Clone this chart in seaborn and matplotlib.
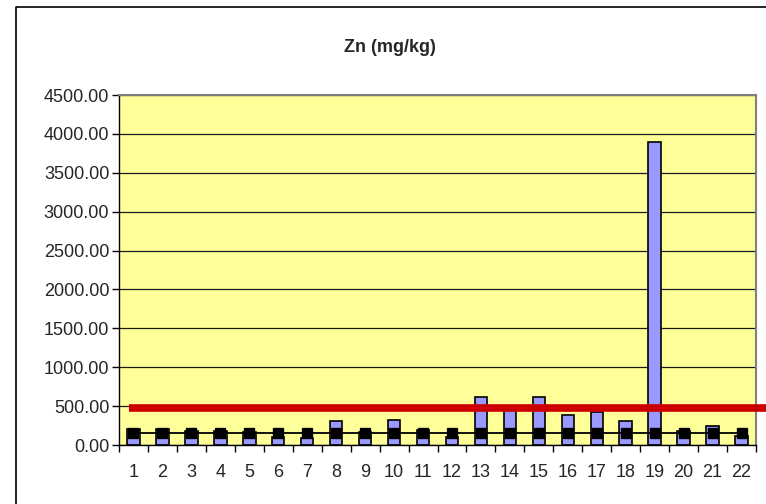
import matplotlib
matplotlib.use("Agg")
import matplotlib.pyplot as plt
import numpy as np
import pandas as pd
import seaborn as sns
from matplotlib.lines import Line2D
from matplotlib.ticker import FixedLocator, FormatStrFormatter

# data
samples = [str(i) for i in range(1, 23)]
zn_values = [200, 200, 185, 185, 165, 105, 85, 305, 165, 320, 190,
             105, 620, 460, 620, 380, 420, 305, 3900, 180, 240, 120]
background_level = [150] * 22
limit_value = 480
y_ticks = list(range(0, 4501, 500))

df = pd.DataFrame({"sample": samples, "zn": zn_values, "bg": background_level})

sns.set_style("white")
plt.rcParams["font.family"] = ["Liberation Sans", "DejaVu Sans"]

fig = plt.figure(figsize=(7.66, 5.04), dpi=100)
ax = fig.add_axes([119 / 766, 1 - 445 / 504, (756 - 119) / 766, 350 / 504])
ax.set_facecolor("#FFFF99")
ax.set_axisbelow(True)

# bars
sns.barplot(data=df, x="sample", y="zn", ax=ax, color="#9999FF", width=0.43,
            edgecolor="black", linewidth=1.2, saturation=1, zorder=2)

# background line with square markers
sns.pointplot(data=df, x="sample", y="bg", ax=ax, color="black", markers="s",
              linestyles="-", markersize=7, linewidth=1.3, zorder=3)

# limit line, runs past the right edge of the plot area
ax.hlines(limit_value, -0.15, 21.86, colors="#CC0000", linewidth=5.5,
          zorder=4, clip_on=False)

ax.set_xlim(-0.5, 21.5)
ax.set_ylim(0, 4500)
ax.set_yticks(y_ticks)
ax.yaxis.set_major_formatter(FormatStrFormatter("%.2f"))
ax.yaxis.grid(True, color="#1a1a1a", linewidth=0.9)
ax.set_xlabel("")
ax.set_ylabel("")

ax.xaxis.set_minor_locator(FixedLocator(np.arange(-0.5, 22, 1)))
ax.tick_params(axis="x", which="major", length=0, pad=14, labelsize=13)
ax.tick_params(axis="x", which="minor", length=5, width=1, color="black",
               direction="out", bottom=True)
ax.tick_params(axis="y", which="major", length=5, width=1, color="black",
               direction="out", left=True, labelsize=13, pad=2)

for side in ["left", "bottom"]:
    ax.spines[side].set_color("black")
    ax.spines[side].set_linewidth(1)
for side in ["top", "right"]:
    ax.spines[side].set_color("#808080")
    ax.spines[side].set_linewidth(1.5)

fig.text(390 / 766, 1 - 47 / 504, "Zn (mg/kg)", ha="center",
         va="center", fontsize=13, fontweight="bold")

# outer chart border (only top and left are inside the image)
fig.add_artist(Line2D([16 / 766, 16 / 766, 1.0], [0.0, 1 - 6.5 / 504, 1 - 6.5 / 504],
                      transform=fig.transFigure, color="black", linewidth=1.2))

fig.savefig("out.png", dpi=100)
